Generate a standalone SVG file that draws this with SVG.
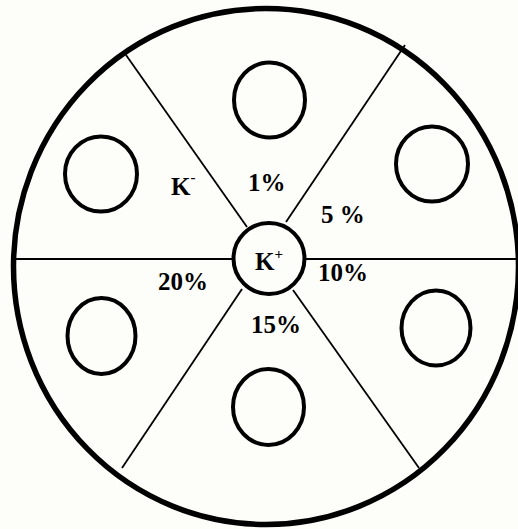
<svg xmlns="http://www.w3.org/2000/svg" width="518" height="529" viewBox="0 0 518 529">
<style>
.bg{fill:#fdfdfa}
.rim{fill:none;stroke:#000;stroke-width:5.5}
.well{fill:none;stroke:#000;stroke-width:4}
.spoke{stroke:#000;stroke-width:1.8;fill:none}
.lbl{font-family:"Liberation Serif","Times New Roman",serif;font-weight:bold;font-size:25px;fill:#000}
.sup{font-size:15px}
</style>
<rect class="bg" x="0" y="0" width="518" height="529"/>
<g id="plate">
  <ellipse class="rim" cx="266" cy="266.5" rx="252.5" ry="258"/>
</g>
<g id="connectors">
  <line class="spoke" x1="14" y1="259" x2="232" y2="259"/>
  <line class="spoke" x1="306" y1="259" x2="518" y2="259"/>
  <line class="spoke" x1="126" y1="55" x2="247" y2="227"/>
  <line class="spoke" x1="405" y1="45" x2="286" y2="222"/>
  <line class="spoke" x1="242" y1="289" x2="122" y2="468"/>
  <line class="spoke" x1="293" y1="290" x2="419" y2="468"/>
</g>
<g id="center">
  <circle class="well" cx="269" cy="258.5" r="35.5"/>
  <text class="lbl" x="255" y="270">K<tspan class="sup" dy="-11">+</tspan></text>
</g>
<g id="well-top"><ellipse class="well" cx="269.5" cy="100" rx="35.5" ry="37.5"/></g>
<g id="well-upper-left"><ellipse class="well" cx="101" cy="174" rx="36" ry="37.5"/></g>
<g id="well-upper-right"><ellipse class="well" cx="432" cy="164" rx="36" ry="37.5"/></g>
<g id="well-lower-left"><ellipse class="well" cx="101.5" cy="336" rx="34" ry="38"/></g>
<g id="well-lower-right"><ellipse class="well" cx="436" cy="328" rx="34.5" ry="37.5"/></g>
<g id="well-bottom"><ellipse class="well" cx="268.5" cy="407" rx="35.5" ry="38"/></g>
<g id="labels">
  <text class="lbl" x="171" y="195">K<tspan class="sup" dy="-13">-</tspan></text>
  <text class="lbl" x="248" y="191">1%</text>
  <text class="lbl" x="321" y="223">5 %</text>
  <text class="lbl" x="318" y="281">10%</text>
  <text class="lbl" x="158" y="290">20%</text>
  <text class="lbl" x="251" y="333">15%</text>
</g>
</svg>
